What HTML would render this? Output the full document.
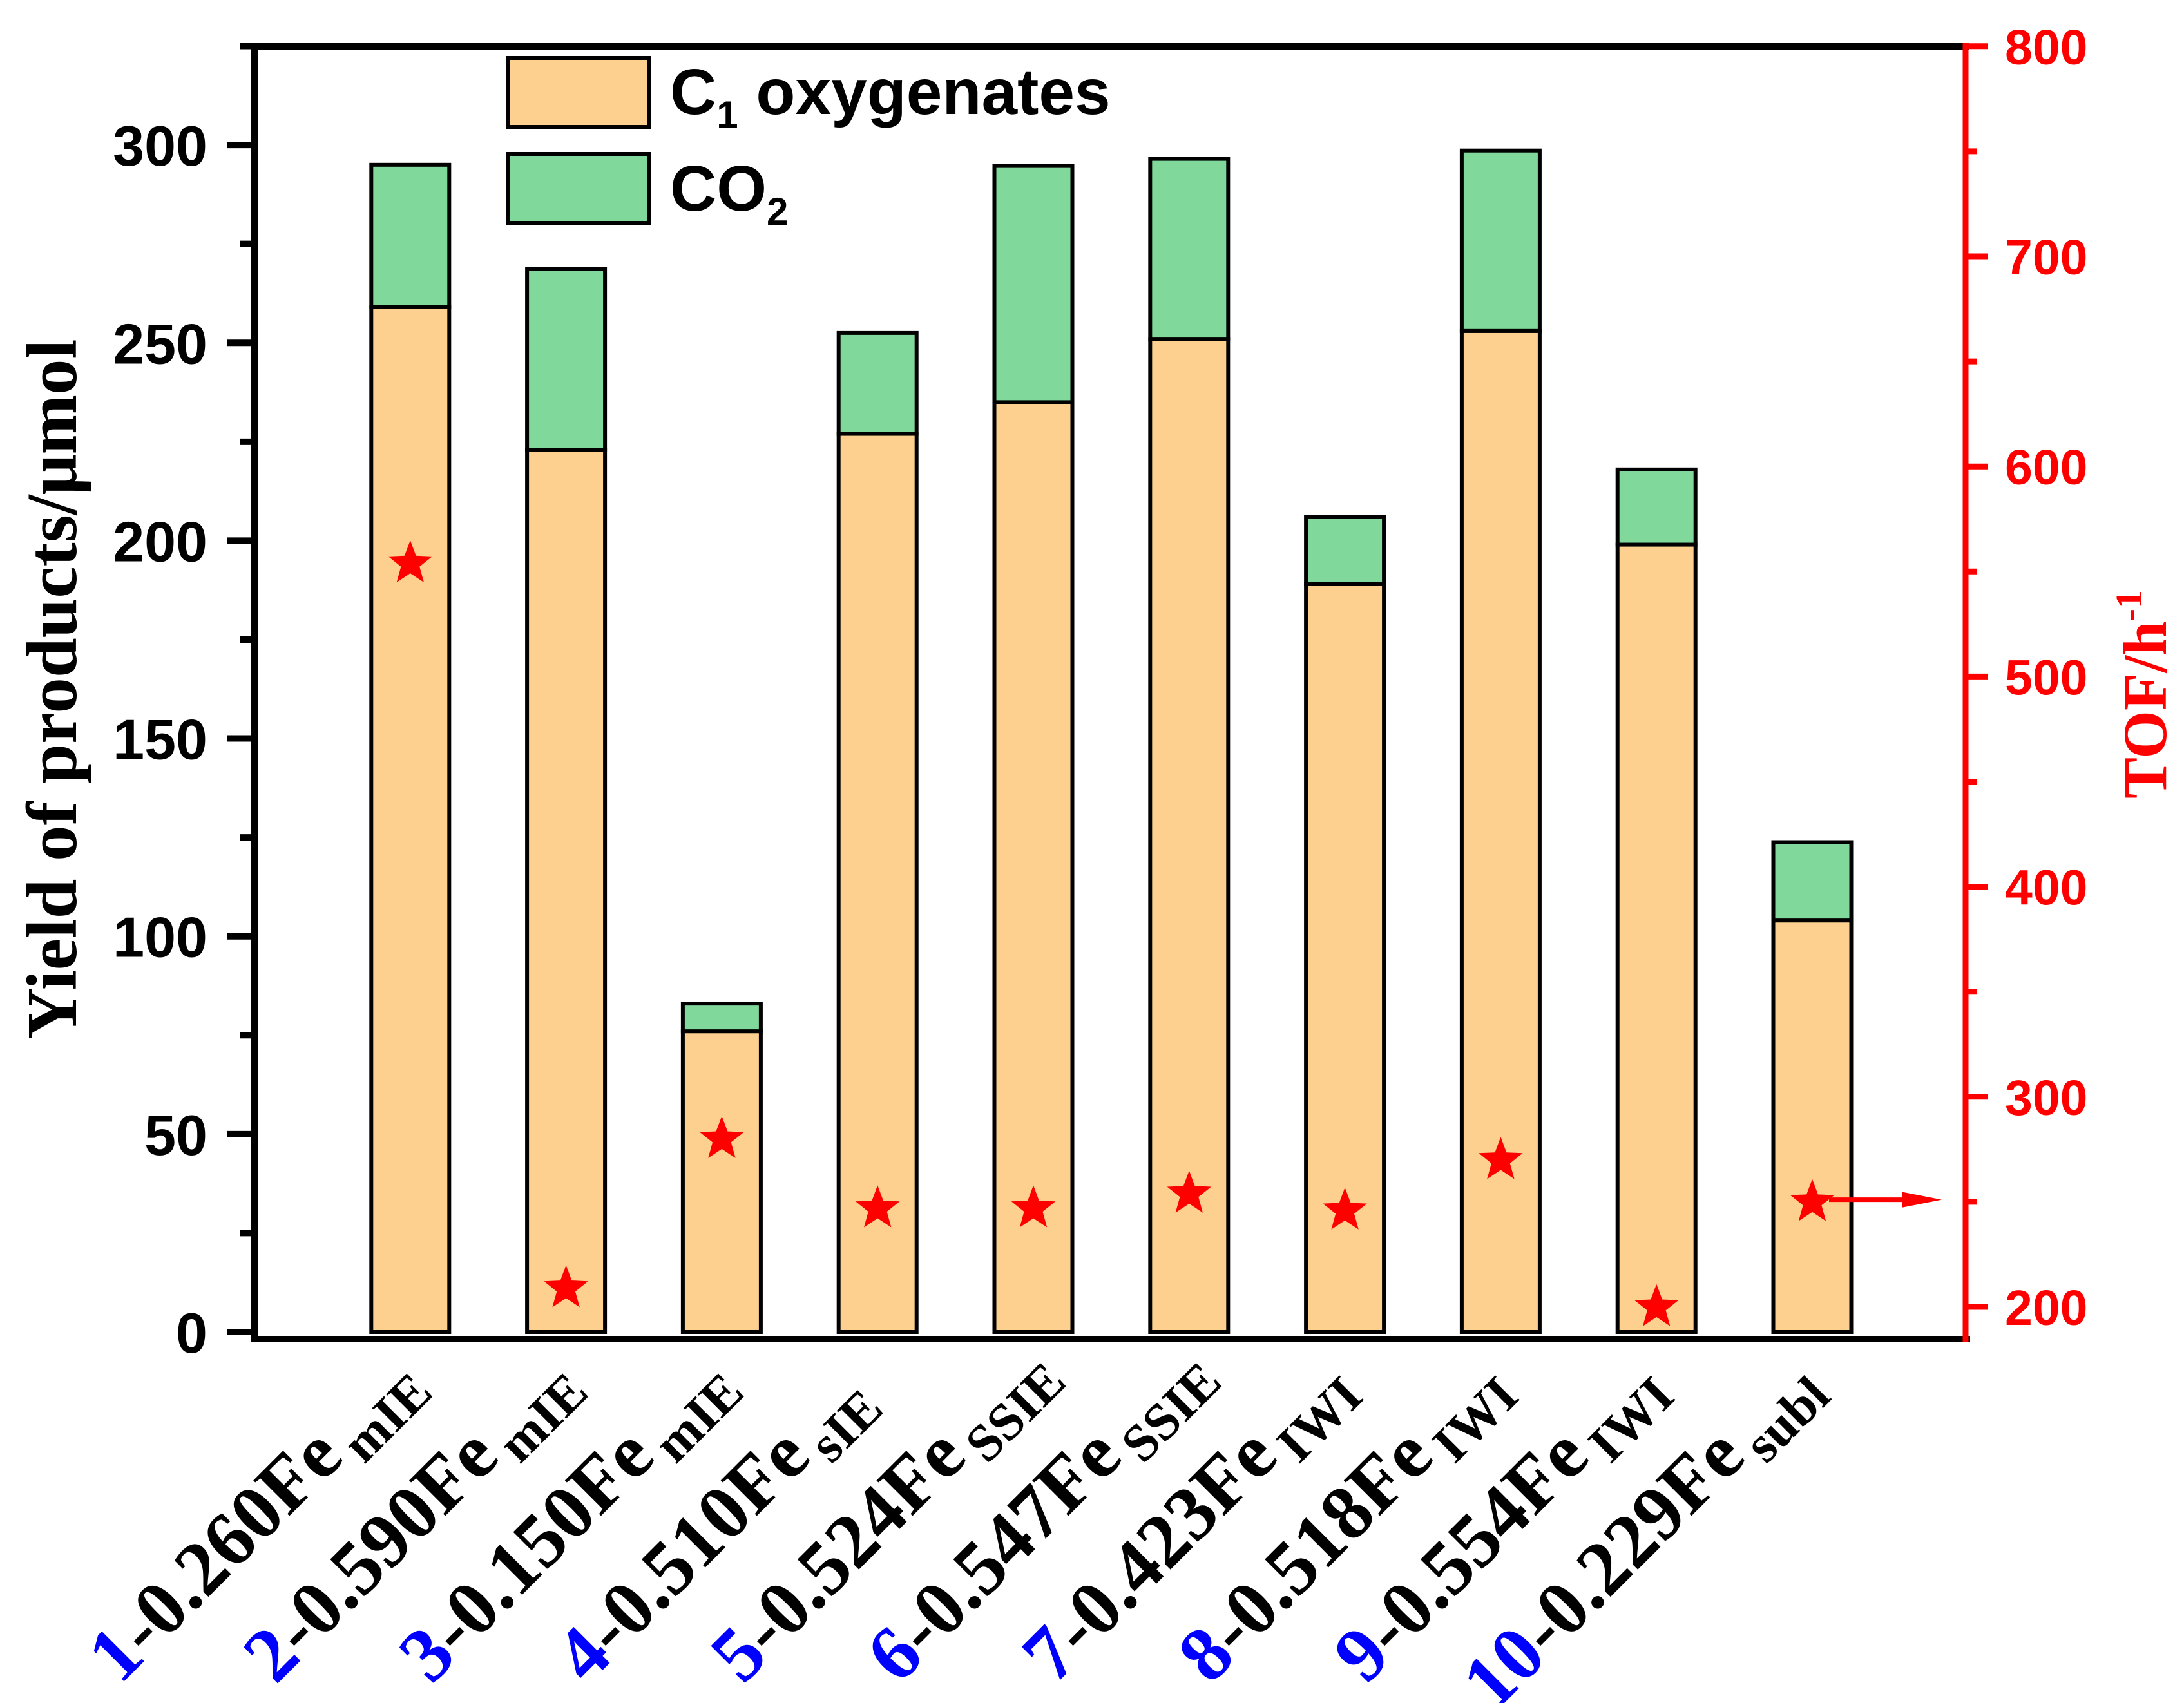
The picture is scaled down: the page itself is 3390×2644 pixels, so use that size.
<!DOCTYPE html>
<html><head><meta charset="utf-8"><style>
html,body{margin:0;padding:0;background:#fff;}
svg{display:block;}
</style></head><body>
<svg id="chart" width="3390" height="2644" viewBox="0 0 3390 2644" xmlns="http://www.w3.org/2000/svg">
<g id="bars"></g>
<g id="stars"></g>
<g id="axes"></g>
<g id="xlabels"></g>
<g>
  <rect x="788" y="90" width="220" height="107" fill="#FDD08F" stroke="#000" stroke-width="6"/>
  <rect x="788" y="239" width="220" height="107" fill="#80D89A" stroke="#000" stroke-width="6"/>
  <text x="1040" y="177" font-family="Liberation Sans, sans-serif" font-weight="bold" font-size="100">C<tspan font-size="60" dy="22">1</tspan><tspan dy="-22"> oxygenates</tspan></text>
  <text x="1040" y="327" font-family="Liberation Sans, sans-serif" font-weight="bold" font-size="100">CO<tspan font-size="60" dy="22">2</tspan></text>
</g>
<text transform="translate(118,1070) rotate(-90)" text-anchor="middle" font-family="Liberation Serif, serif" font-weight="bold" font-size="111">Yield of products/μmol</text>
<text transform="translate(3362,1078) rotate(-90)" text-anchor="middle" font-family="Liberation Serif, serif" font-weight="bold" font-size="96" fill="#FF0000">TOF/h<tspan font-size="58" dy="-38">-1</tspan></text>
</svg>
<script>
const categories = ["1","2","3","4","5","6","7","8","9","10"];
const loadings = ["0.260","0.590","0.150","0.510","0.524","0.547","0.423","0.518","0.554","0.229"];
const methods = ["mIE","mIE","mIE","sIE","SSIE","SSIE","IWI","IWI","IWI","subl"];
const c1Values = [259, 223, 76, 227, 235, 251, 189, 253, 199, 104];
const totalValues = [295, 268.7, 83, 252.5, 294.7, 296.5, 206, 298.6, 218, 123.8];
const tofValues = [555, 210, 281, 248, 248, 255, 247, 271, 201, 251];
const leftTicks = [0, 50, 100, 150, 200, 250, 300];
const rightTicks = [200, 300, 400, 500, 600, 700, 800];

const NS = "http://www.w3.org/2000/svg";
const X0 = 395, XSTEP = 241.8;
const xPos = i => X0 + (i + 1) * XSTEP;
const yLeft = v => 2068 - v * 6.143;
const yRight = v => 2029 - (v - 200) * 3.262;
const BW = 121;
function mk(tag, attrs, parent){ const e=document.createElementNS(NS,tag); for(const k in attrs) e.setAttribute(k,attrs[k]); parent.appendChild(e); return e; }

const gb = document.getElementById('bars');
categories.forEach((c,i)=>{
  const cx = xPos(i);
  const r1 = mk('rect',{x:cx-BW/2,y:yLeft(c1Values[i]),width:BW,height:yLeft(0)-yLeft(c1Values[i]),fill:'#FDD08F',stroke:'#000','stroke-width':6},gb);
  
  
  const r2 = mk('rect',{x:cx-BW/2,y:yLeft(totalValues[i]),width:BW,height:yLeft(c1Values[i])-yLeft(totalValues[i]),fill:'#80D89A',stroke:'#000','stroke-width':6},gb);
  
  
});

const gs = document.getElementById('stars');
function starPts(cx,cy,R){ const r=R*0.42; let p=[]; for(let k=0;k<10;k++){ const a=-Math.PI/2+k*Math.PI/5; const rr=k%2?r:R; p.push((cx+rr*Math.cos(a)).toFixed(1)+','+(cy+rr*Math.sin(a)).toFixed(1)); } return p.join(' '); }
categories.forEach((c,i)=>{
  const s = mk('polygon',{points:starPts(xPos(i),yRight(tofValues[i])+4,36),fill:'#FF0000'},gs);
  
  
});
const ay = yRight(tofValues[9]);
const arrow = mk('g',{},gs);


mk('line',{x1:xPos(9)+26,y1:ay,x2:2960,y2:ay,stroke:'#FF0000','stroke-width':7},arrow);
mk('polygon',{points:`2953,${ay-12} 3014,${ay} 2953,${ay+12}`,fill:'#FF0000'},arrow);

const ga = document.getElementById('axes');
const frame = mk('g',{},ga);


mk('line',{x1:390,y1:72,x2:3056,y2:72,stroke:'#000','stroke-width':10},frame);
mk('line',{x1:390,y1:2079,x2:3058,y2:2079,stroke:'#000','stroke-width':10},frame);
mk('line',{x1:395,y1:67,x2:395,y2:2084,stroke:'#000','stroke-width':10},frame);
mk('line',{x1:3051,y1:67,x2:3051,y2:2084,stroke:'#FF0000','stroke-width':9},frame);
for(let v=0; v<=325; v+=25){
  const major = v%50===0;
  const t = mk('line',{x1:major?353:373,y1:yLeft(v),x2:395,y2:yLeft(v),stroke:'#000','stroke-width':10},ga);
  
  
}
leftTicks.forEach(v=>{
  const t = mk('text',{x:322,y:yLeft(v)+32,'text-anchor':'end','font-family':'Liberation Sans, sans-serif','font-weight':'bold','font-size':88},ga);
  t.textContent = v;
  
  
});
for(let v=200; v<=800; v+=50){
  const major = v%100===0;
  const t = mk('line',{x1:3051,y1:yRight(v),x2:major?3086:3068,y2:yRight(v),stroke:'#FF0000','stroke-width':9},ga);
  
  
}
rightTicks.forEach(v=>{
  const t = mk('text',{x:3112,y:yRight(v)+28,'font-family':'Liberation Sans, sans-serif','font-weight':'bold','font-size':77,fill:'#FF0000'},ga);
  t.textContent = v;
  
  
});

const gx = document.getElementById('xlabels');
categories.forEach((c,i)=>{
  const ex = xPos(i) - 100, ey = 2266;
  const t = mk('text',{transform:`translate(${ex},${ey}) rotate(-45)`,'text-anchor':'end','font-family':'Liberation Serif, serif','font-weight':'bold','font-size':120},gx);
  
  
  const n = mk('tspan',{fill:'#0000FF'},t); n.textContent = c;
  const r = mk('tspan',{fill:'#000'},t); r.textContent = '-'+loadings[i]+'Fe';
  const s = mk('text',{transform:`translate(${ex},${ey}) rotate(-45)`,x:14,y:26,'font-family':'Liberation Serif, serif','font-weight':'bold','font-size':82},gx);
  s.textContent = methods[i];
  
  
});
</script>
</body></html>
